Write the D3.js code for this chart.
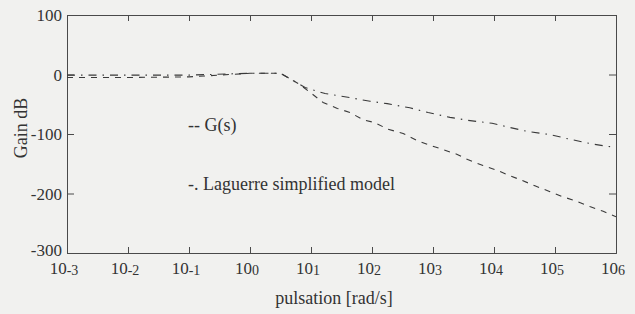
<!DOCTYPE html>
<html>
<head>
<meta charset="utf-8">
<script src="https://cdn.jsdelivr.net/npm/d3@7"></script>
<style>
  body { margin: 0; background: #f1f1ef; }
  svg { display: block; font-family: "Liberation Serif", "Times New Roman", serif; }
  .axis path, .axis line { stroke: #4a4a4a; }
</style>
</head>
<body>
<script>
// Data
var decades = [-3, -2, -1, 0, 1, 2, 3, 4, 5, 6];
var gainTicks = [-300, -200, -100, 0, 100];

var gFreq = [1e-3, 1e-2, 1e-1, 1, 3.16, 6.6, 15.8, 27, 44, 71, 112, 182, 324, 550, 890, 1450, 2450, 3700, 6600,
             11200, 18200, 28800, 46800, 83000, 129000, 214000, 372000, 617000, 1e6];
var gGain = [-5, -5, -4, 2, 2, -17, -47, -57, -64, -76, -81, -92, -99, -111, -119, -126, -134, -143, -153,
             -161, -170, -178, -187, -197, -205, -212, -222, -230, -239];

var lagFreq = [1e-3, 1e-2, 1e-1, 1, 3.16, 6.6, 8, 17, 44, 93, 178, 417, 832, 1900, 3700, 9300,
               18200, 36300, 83000, 162000, 372000, 741000, 1e6];
var lagGain = [-1, -1, -1, 2, 2, -17, -22, -32, -39, -45, -49, -56, -64, -72, -77, -82,
               -89, -96, -101, -108, -116, -121, -122];

var margin = {top: 15, right: 19, bottom: 61, left: 67},
    width = 635 - margin.left - margin.right,
    height = 314 - margin.top - margin.bottom;

var svg = d3.select("body").append("svg")
    .attr("width", 635)
    .attr("height", 314);

var g = svg.append("g")
    .attr("transform", "translate(" + margin.left + "," + margin.top + ")");

var x = d3.scaleLog().domain([1e-3, 1e6]).range([0, width]);
var y = d3.scaleLinear().domain([-300, 100]).range([height, 0]);

var decadeVals = decades.map(function(d) { return Math.pow(10, d); });

// Axes on all four sides, ticks pointing inward
g.append("g").attr("class", "axis")
    .attr("transform", "translate(0," + height + ")")
    .call(d3.axisBottom(x).tickValues(decadeVals).tickSize(-6).tickFormat(""));
g.append("g").attr("class", "axis")
    .call(d3.axisTop(x).tickValues(decadeVals).tickSize(-6).tickFormat(""));
g.append("g").attr("class", "axis")
    .call(d3.axisLeft(y).tickValues(gainTicks).tickSize(-7).tickFormat(""));
g.append("g").attr("class", "axis")
    .attr("transform", "translate(" + width + ",0)")
    .call(d3.axisRight(y).tickValues(gainTicks).tickSize(-7).tickFormat(""));

// Y tick labels (bottom one sits slightly raised, as in the original)
g.selectAll(".ylab").data(gainTicks).enter().append("text")
    .attr("x", -5)
    .attr("y", function(d) { return y(d) + (d === -300 ? 3 : 6); })
    .attr("text-anchor", "end")
    .attr("font-size", 17)
    .attr("fill", "#333")
    .text(function(d) { return d; });

// X tick labels: 10 with a lowered exponent
var xl = g.selectAll(".xlab").data(decades).enter().append("text")
    .attr("x", function(d) { return x(Math.pow(10, d)) - 3; })
    .attr("y", height + 21)
    .attr("text-anchor", "middle")
    .attr("fill", "#333")
    .attr("font-size", 17);
xl.append("tspan").text("10");
xl.append("tspan").attr("font-size", 14).attr("dy", 1)
    .text(function(d) { return d < 0 ? "-" + (-d) : d; });

// Curves
var line = d3.line()
    .x(function(d) { return x(d[0]); })
    .y(function(d) { return y(d[1]); });

g.append("path")
    .datum(d3.zip(gFreq, gGain))
    .attr("fill", "none")
    .attr("stroke", "#3a3a3a")
    .attr("stroke-width", 1.1)
    .attr("stroke-dasharray", "6,6")
    .attr("d", line);

g.append("path")
    .datum(d3.zip(lagFreq, lagGain))
    .attr("fill", "none")
    .attr("stroke", "#3a3a3a")
    .attr("stroke-width", 1.1)
    .attr("stroke-dasharray", "8,6,1.5,6")
    .attr("d", line);

// In-plot legend text
g.append("text").attr("x", 121).attr("y", 116)
    .attr("font-size", 18).attr("fill", "#333").text("-- G(s)");
g.append("text").attr("x", 121).attr("y", 175)
    .attr("font-size", 18).attr("fill", "#333").text("-. Laguerre simplified model");

// Axis titles
svg.append("text")
    .attr("transform", "translate(27," + (margin.top + 113) + ") rotate(-90)")
    .attr("text-anchor", "middle")
    .attr("font-size", 18).attr("fill", "#333")
    .text("Gain dB");
svg.append("text")
    .attr("x", 334).attr("y", 304)
    .attr("text-anchor", "middle")
    .attr("font-size", 18).attr("fill", "#333")
    .text("pulsation [rad/s]");
</script>
</body>
</html>
